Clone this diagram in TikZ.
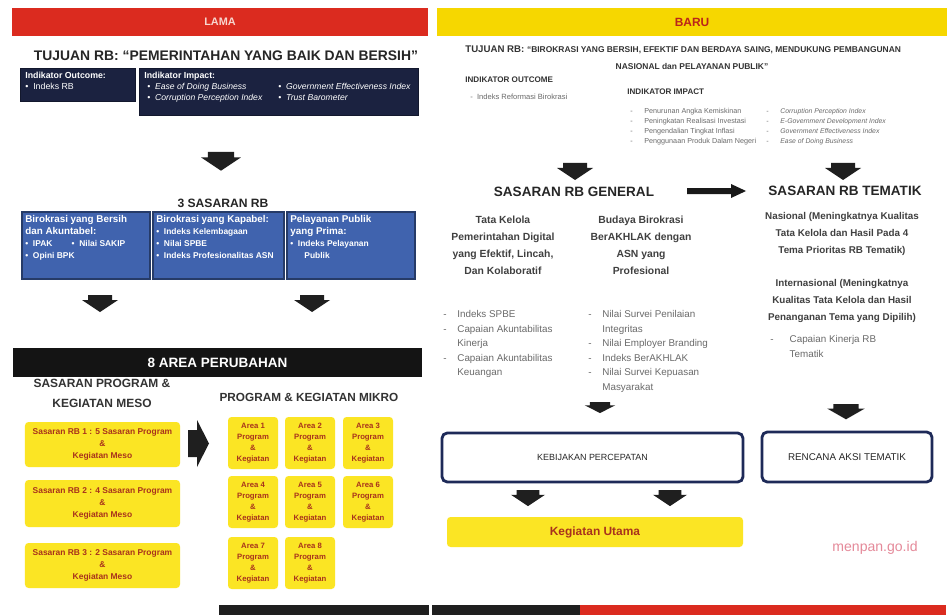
\documentclass[tikz,border=0pt]{standalone}
\usepackage{fontspec}
\setmainfont{Liberation Sans}
\usetikzlibrary{calc}
\definecolor{lamared}{HTML}{DB2B1F}
\definecolor{lamapink}{HTML}{F7D6CF}
\definecolor{barugold}{HTML}{F6D700}
\definecolor{navyfill}{HTML}{1B2240}
\definecolor{rbblue}{HTML}{4063AE}
\definecolor{boxyellow}{HTML}{FBE524}
\definecolor{maroontxt}{HTML}{A8321C}
\definecolor{greytxt}{HTML}{6A6A6A}
\definecolor{framenavy}{HTML}{1E2A58}
\definecolor{pinktxt}{HTML}{E58A9A}
\newcommand\fsz[2]{\fontsize{#1}{#2}\selectfont}
\newcommand\bul{\makebox[8pt][l]{-}}
\newcommand\bulind{\hspace*{8pt}}
% [options]{name}{x1}{y1}{x2}{y2}{text}
\newcommand\boxnode[7][]{%
  \pgfmathsetmacro\rbw{(#5-#3)*0.02}%
  \pgfmathsetmacro\rbh{(#6-#4)*0.02}%
  \node[#1, minimum width=\rbw cm, minimum height=\rbh cm] (#2) at ({(#3+#5)/2},{(#4+#6)/2}) {#7};}
\tikzset{
  area/.style={inner sep=0pt, outer sep=0pt, align=center},
  bar/.style={area, draw=none},
  navybox/.style={area, fill=navyfill, draw=navyfill!70!black},
  bluebox/.style={area, fill=rbblue, draw=rbblue!60!black, line width=0.6pt},
  ybox/.style={area, fill=boxyellow, rounded corners=2pt, text=maroontxt},
  framebox/.style={area, draw=framenavy, line width=1.6pt, rounded corners=3pt, fill=white, text=black!85},
  txt/.style={inner sep=0pt, align=center},
  ltxt/.style={inner sep=0pt, align=left, anchor=north west},
  dnarrow/.pic={\fill[black!88] (-12,0) -- (12,0) -- (12,5) -- (18,5) -- (0,17) -- (-18,5) -- (-12,5) -- cycle;}
}
\begin{document}
\begin{tikzpicture}[x=0.02cm, y=-0.02cm]
\useasboundingbox (0,0) rectangle (947,615);
\fill[white] (0,0) rectangle (947,615);

% ---------- headers
\boxnode[bar, fill=lamared, text=lamapink, font=\bfseries\fsz{6.2}{7}]{lama}{12}{8}{428}{36}{LAMA}
\boxnode[bar, fill=barugold, text=lamared!85!black, font=\bfseries\fsz{6.8}{7}]{baru}{437}{8}{947}{36}{BARU}

% ---------- LAMA side
\node[txt, font=\bfseries\fsz{7.9}{9}, text=black!85] (tjl) at (226,56) {TUJUAN RB: “PEMERINTAHAN YANG BAIK DAN BERSIH”};

\boxnode[navybox]{iout}{20}{68}{135}{101}{}
\node[ltxt, text=white, font=\fsz{5}{6}] at ($(iout.north west)+(5,4)$) {\textbf{Indikator Outcome:}\\ • \ Indeks RB};

\boxnode[navybox]{iimp}{139}{68}{418}{115}{}
\node[ltxt, text=white, font=\bfseries\fsz{5}{6}] (iimpt) at ($(iimp.north west)+(5,4)$) {Indikator Impact:};
\node[ltxt, text=white, font=\itshape\fsz{4.9}{6}] (iimpa) at ($(iimp.north west)+(8,15)$) {• \ Ease of Doing Business\\ • \ Corruption Perception Index};
\node[ltxt, text=white, font=\itshape\fsz{4.9}{6}] (iimpb) at ($(iimp.north west)+(139,15)$) {• \ Government Effectiveness Index\\ • \ Trust Barometer};

\pic[scale=1.1] (a0) at (221,152) {dnarrow};

\node[txt, font=\bfseries\fsz{6.9}{8}, text=black!85] (s3t) at (223,203) {3 SASARAN RB};

\boxnode[bluebox]{s1}{22}{212}{150}{279}{}
\node[ltxt, text=white, font=\bfseries\fsz{5.6}{6.8}] at ($(s1.north west)+(3,3)$)
  {Birokrasi yang Bersih\\dan Akuntabel:\\ \fsz{4.8}{6.8}• \ IPAK \quad\quad • \ Nilai SAKIP\\ \fsz{4.8}{6.8}• \ Opini BPK};
\boxnode[bluebox]{s2}{153}{212}{284}{279}{}
\node[ltxt, text=white, font=\bfseries\fsz{5.6}{6.8}] at ($(s2.north west)+(3,3)$)
  {Birokrasi yang Kapabel:\\ \fsz{4.8}{6.8}• \ Indeks Kelembagaan\\ \fsz{4.8}{6.8}• \ Nilai SPBE\\ \fsz{4.8}{6.8}• \ Indeks Profesionalitas ASN};
\boxnode[bluebox]{s3}{287}{212}{415}{279}{}
\node[ltxt, text=white, font=\bfseries\fsz{5.6}{6.8}] at ($(s3.north west)+(3,3)$)
  {Pelayanan Publik\\yang Prima:\\ \fsz{4.8}{6.8}• \ Indeks Pelayanan\\ \fsz{4.8}{6.8}\hspace*{8pt}Publik};

\pic (a1) at (100,295) {dnarrow};
\pic (a2) at (312,295) {dnarrow};

\boxnode[bar, fill=black!92, text=white, font=\bfseries\fsz{7.7}{8}]{area}{13}{348}{422}{377}{8 AREA PERUBAHAN}

\node[txt, font=\bfseries\fsz{6.8}{11.4}, text=black!80] (meso) at (102,393) {SASARAN PROGRAM \&\\KEGIATAN MESO};
\node[txt, font=\bfseries\fsz{6.7}{7}, text=black!80] (mikro) at (309,397) {PROGRAM \& KEGIATAN MIKRO};

\boxnode[ybox, font=\bfseries\fsz{4.8}{6.6}]{m1}{25}{422}{180}{467}{Sasaran RB 1 : 5 Sasaran Program\\\&\\Kegiatan Meso}
\boxnode[ybox, font=\bfseries\fsz{4.8}{6.6}]{m2}{25}{480}{180}{527}{Sasaran RB 2 : 4 Sasaran Program\\\&\\Kegiatan Meso}
\boxnode[ybox, font=\bfseries\fsz{4.8}{6.6}]{m3}{25}{543}{180}{588}{Sasaran RB 3 : 2 Sasaran Program\\\&\\Kegiatan Meso}

\fill[black!88] (188,430) -- (197,430) -- (197,420) -- (209,443.5) -- (197,467) -- (197,457) -- (188,457) -- cycle;

\foreach \n/\xa/\ya in {1/228/417, 2/285/417, 3/343/417, 4/228/476, 5/285/476, 6/343/476, 7/228/537, 8/285/537}{
  \boxnode[ybox, font=\bfseries\fsz{4.4}{6.3}]{g\n}{\xa}{\ya}{\xa+50}{\ya+52}{Area \n\\Program\\\&\\Kegiatan}
}

% ---------- BARU side
\node[inner sep=0pt, anchor=west, text=black!80, font=\bfseries\fsz{4.8}{6}] (tjr) at (465,50) {\fsz{5.5}{6}TUJUAN RB: \fsz{4.8}{6}“BIROKRASI YANG BERSIH, EFEKTIF DAN BERDAYA SAING, MENDUKUNG PEMBANGUNAN};
\node[txt, text=black!80, font=\bfseries\fsz{4.8}{6}] (tjr2) at (692,66) {NASIONAL dan PELAYANAN PUBLIK”};

\node[inner sep=0pt, anchor=west, text=black!80, font=\bfseries\fsz{4.6}{6}] (ioutr) at (465,80) {INDIKATOR OUTCOME};
\node[inner sep=0pt, anchor=west, text=greytxt, font=\fsz{4.3}{6}] (ioutr1) at (470,97) {- \ Indeks Reformasi Birokrasi};

\node[inner sep=0pt, anchor=west, text=black!80, font=\bfseries\fsz{4.6}{6}] (iimpr) at (627,92) {INDIKATOR IMPACT};
\node[ltxt, text=greytxt, font=\fsz{4.1}{5.7}] (iimpr1) at (630,108)
  {\bul Penurunan Angka Kemiskinan\\\bul Peningkatan Realisasi Investasi\\\bul Pengendalian Tingkat Inflasi\\\bul Penggunaan Produk Dalam Negeri};
\node[ltxt, text=greytxt, font=\itshape\fsz{3.9}{5.7}] (iimpr2) at (766,108)
  {\bul Corruption Perception Index\\\bul E-Government Development Index\\\bul Government Effectiveness Index\\\bul Ease of Doing Business};

\pic (a3) at (575,163) {dnarrow};
\pic (a4) at (843,163) {dnarrow};

\node[txt, font=\bfseries\fsz{7.7}{9}, text=black!85] (gen) at (574,192) {SASARAN RB GENERAL};
\node[txt, font=\bfseries\fsz{7.7}{9}, text=black!85] (tem) at (845,191) {SASARAN RB TEMATIK};
\fill[black!90] (687,188) -- (731,188) -- (731,184) -- (746,191) -- (731,198) -- (731,194) -- (687,194) -- cycle;

\node[txt, font=\bfseries\fsz{5.9}{9.7}, text=black!75] (gen1) at (503,245) {Tata Kelola\\Pemerintahan Digital\\yang Efektif, Lincah,\\Dan Kolaboratif};
\node[txt, font=\bfseries\fsz{5.9}{9.7}, text=black!75] (gen2) at (641,245) {Budaya Birokrasi\\BerAKHLAK dengan\\ASN yang\\Profesional};

\node[ltxt, text=greytxt, font=\fsz{5.6}{8.3}] (gl1) at (443,310)
  {\bul Indeks SPBE\\\bul Capaian Akuntabilitas\\\bulind Kinerja\\\bul Capaian Akuntabilitas\\\bulind Keuangan};
\node[ltxt, text=greytxt, font=\fsz{5.6}{8.3}] (gl2) at (588,310)
  {\bul Nilai Survei Penilaian\\\bulind Integritas\\\bul Nilai Employer Branding\\\bul Indeks BerAKHLAK\\\bul Nilai Survei Kepuasan\\\bulind Masyarakat};

\node[txt, font=\bfseries\fsz{5.6}{9.7}, text=black!75] (tem1) at (842,234) {Nasional (Meningkatnya Kualitas\\Tata Kelola dan Hasil Pada 4\\Tema Prioritas RB Tematik)};
\node[txt, font=\bfseries\fsz{5.6}{9.7}, text=black!75] (tem2) at (842,301) {Internasional (Meningkatnya\\Kualitas Tata Kelola dan Hasil\\Penanganan Tema yang Dipilih)};
\node[ltxt, text=greytxt, font=\fsz{5.6}{8.3}] (tem3) at (770,335) {\makebox[11pt][l]{-}Capaian Kinerja RB\\\hspace*{11pt}Tematik};

\pic[xscale=0.85, yscale=0.65] (a5) at (600,402) {dnarrow};
\pic[xscale=1.05, yscale=0.9] (a6) at (846,404) {dnarrow};

\boxnode[framebox, font=\fsz{5.1}{6}]{kp}{442}{433}{743}{482}{KEBIJAKAN PERCEPATAN}
\boxnode[framebox, font=\fsz{5.6}{6}]{rat}{762}{432}{932}{482}{RENCANA AKSI TEMATIK}

\pic[scale=0.95] (a7) at (528,490) {dnarrow};
\pic[scale=0.95] (a8) at (670,490) {dnarrow};

\boxnode[ybox, font=\bfseries\fsz{6.8}{7}]{ku}{447}{517}{743}{547}{Kegiatan Utama}

\node[txt, text=pinktxt, font=\fsz{8}{9}] (web) at (875,548) {menpan.go.id};

% ---------- bottom strip
\fill[black!88] (219,605) rectangle (429,615);
\fill[black!88] (432,605) rectangle (580,615);
\fill[lamared] (580,605) rectangle (946,615);
\end{tikzpicture}
\end{document}
